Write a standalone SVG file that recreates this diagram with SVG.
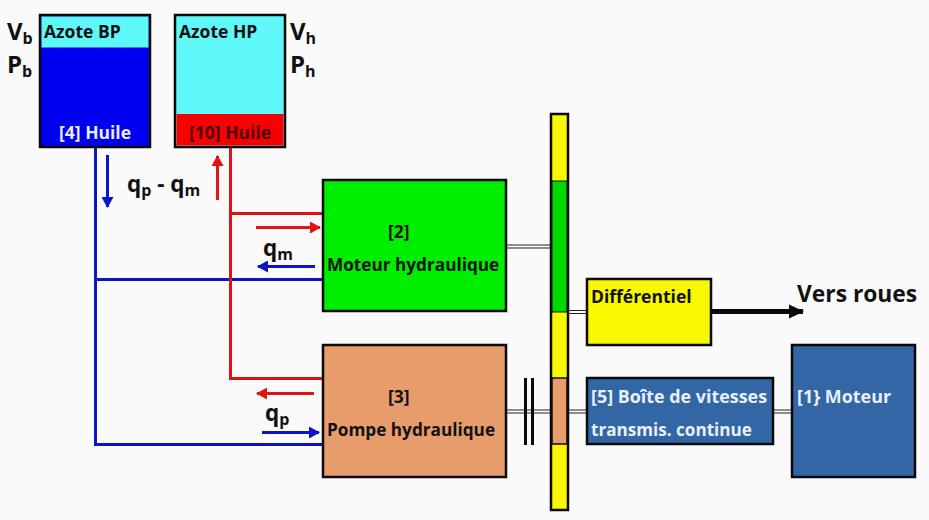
<svg xmlns="http://www.w3.org/2000/svg" width="929" height="520" viewBox="0 0 929 520">
<style>
text{font-family:"Open Sans","Noto Sans","Liberation Sans",sans-serif;font-weight:700;fill:#111}
.b{stroke:#0a0a0a;stroke-width:2.5}
.w{fill:#e8f0fa}
.s{font-size:17.500px}
.m{font-size:17.200px}
.big{font-size:24px}
.q{font-size:22.500px}
.sub{font-size:16px}
.pr{stroke:#dc1414;stroke-width:3;fill:none}
.pb{stroke:#0c14c8;stroke-width:3;fill:none}
.ar{stroke:#e01414;stroke-width:3;fill:none;marker-end:url(#mr)}
.ab{stroke:#0c14c8;stroke-width:3;fill:none;marker-end:url(#mb)}
.sh{stroke:#222;stroke-width:1}
</style>
<defs>
<marker id="mr" markerUnits="userSpaceOnUse" markerWidth="12" markerHeight="12" refX="10" refY="6" orient="auto"><path d="M0 0L11 6L0 12Z" fill="#e01414"/></marker>
<marker id="mb" markerUnits="userSpaceOnUse" markerWidth="12" markerHeight="12" refX="10" refY="6" orient="auto"><path d="M0 0L11 6L0 12Z" fill="#0c14c8"/></marker>
<marker id="mk" markerUnits="userSpaceOnUse" markerWidth="16" markerHeight="16" refX="14" refY="8" orient="auto"><path d="M0 1L15 8L0 15Z" fill="#0a0a0a"/></marker>
</defs>
<rect width="929" height="520" fill="#fafafa"/>
<g id="connectors">
<path class="pb" d="M95.500 147V444.500H322M95.500 279.500H322"/>
<path class="pr" d="M230.500 147V378.500H322M230.500 213.500H322"/>
<path class="ab" d="M107.500 155V207"/>
<path class="ar" d="M217.500 200V156"/>
<path class="ar" d="M256 227.500H320"/>
<path class="ab" d="M315 266.500H258"/>
<path class="ar" d="M314 393.500H257"/>
<path class="ab" d="M262 432.500H319"/>
<path d="M506 245H551M506 248H551M506 410H587M506 413H587M568 310.500H587M568 313.500H587M773 410H792M773 413H792" class="sh"/>
<path d="M525.500 378V445M532.500 378V445" stroke="#0a0a0a" stroke-width="3" fill="none"/>
<path d="M712 311.500H803" stroke="#0a0a0a" stroke-width="5" fill="none" marker-end="url(#mk)"/>
</g>
<g id="tank-bp">
<rect x="40" y="15" width="110" height="132" fill="#0000f0" class="b"/>
<rect x="41.500" y="16.500" width="107" height="31" fill="#5ff8f8"/>
<text x="44" y="38" class="s">Azote BP</text>
<text x="59" y="139" class="s" style="fill:#e8ecff">[4] Huile</text>
<text x="7" y="40" class="big">V<tspan class="sub" dy="4">b</tspan></text>
<text x="7" y="73" class="big">P<tspan class="sub" dy="4">b</tspan></text>
</g>
<g id="tank-hp">
<rect x="175" y="15" width="110" height="132" fill="#5ff8f8" class="b"/>
<rect x="176.500" y="114" width="107" height="31.500" fill="#f80000"/>
<text x="179" y="38" class="s">Azote HP</text>
<text x="189" y="139" class="s" style="fill:#4a0a0a">[10] Huile</text>
<text x="290" y="40" class="big">V<tspan class="sub" dy="4">h</tspan></text>
<text x="290" y="73" class="big">P<tspan class="sub" dy="4">h</tspan></text>
</g>
<g id="flow-labels">
<text x="127" y="192" class="q">q<tspan class="sub" dy="4">p</tspan><tspan dy="-4"> - q</tspan><tspan class="sub" dy="4">m</tspan></text>
<text x="263" y="256" class="q">q<tspan class="sub" dy="4">m</tspan></text>
<text x="265" y="421" class="q">q<tspan class="sub" dy="4">p</tspan></text>
</g>
<g id="moteur-hydraulique">
<rect x="323" y="180" width="183" height="131" fill="#00ee00" class="b"/>
<text x="388" y="238" class="s">[2]</text>
<text x="327" y="271" class="m">Moteur hydraulique</text>
</g>
<g id="pompe-hydraulique">
<rect x="323" y="345" width="183" height="132" fill="#e89c6c" class="b"/>
<text x="388" y="403" class="s">[3]</text>
<text x="327" y="436" class="m">Pompe hydraulique</text>
</g>
<g id="arbre">
<rect x="551" y="114" width="17" height="396" fill="#f8f800" class="b"/>
<rect x="552" y="181" width="15" height="131" fill="#00d800" stroke="#0a0a0a" stroke-width="1"/>
<rect x="552" y="378" width="15" height="66" fill="#e89c6c" stroke="#0a0a0a" stroke-width="1.500"/>
</g>
<g id="differentiel">
<rect x="587" y="279" width="124" height="66" fill="#f8f800" class="b"/>
<text x="591" y="303" class="s">Différentiel</text>
</g>
<g id="vers-roues">
<text x="797" y="302" style="font-size:22.800px">Vers roues</text>
</g>
<g id="boite">
<rect x="587" y="378" width="186" height="66" fill="#3366a4" class="b"/>
<text x="591" y="403" class="w" style="font-size:17.900px">[5] Boîte de vitesses</text>
<text x="591" y="436" class="w" style="font-size:17.100px">transmis. continue</text>
</g>
<g id="moteur">
<rect x="792" y="345" width="123" height="132" fill="#3366a4" class="b"/>
<text x="797" y="403" class="w" style="font-size:17.900px">[1} Moteur</text>
</g>
</svg>
